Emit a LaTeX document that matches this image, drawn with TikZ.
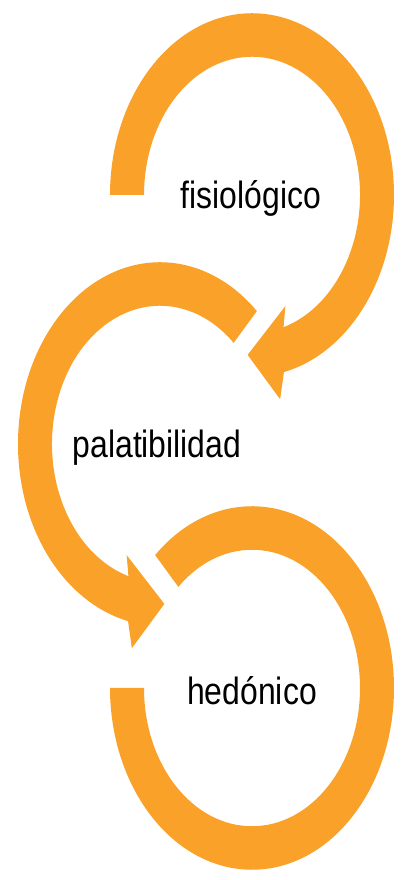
\documentclass[tikz,border=0pt]{standalone}
\usepackage{fontspec}
\setmainfont[FakeStretch=0.84]{Liberation Sans}
\usepackage{tikz}
\definecolor{ringorange}{RGB}{250,161,41}

\begin{document}
\begin{tikzpicture}[x=0.5pt, y=0.5pt]
        \tikzstyle{ring} = [fill=ringorange, draw=none, yscale=1.28]
        \tikzstyle{label} = [anchor=base, font=\fontsize{19}{22}\selectfont, text=black]

        \useasboundingbox (0,0) rectangle (411,880);

        % top ring, clockwise with arrow head
        \begin{scope}[shift={(252,685)}, ring]
            \fill (180:142) arc [start angle=180, end angle=-77, radius=142]
                -- (-80:162) -- (-92:125) -- (-69:93) -- (-73:108)
                arc [start angle=-73, end angle=180, radius=108] -- cycle;
        \end{scope}

        % middle ring, counter clockwise with arrow head
        \begin{scope}[shift={(160,436)}, ring]
            \fill (47:142) arc [start angle=47, end angle=257, radius=142]
                -- (260:162) -- (272:125) -- (249:93) -- (253:108)
                arc [start angle=253, end angle=47, radius=108] -- cycle;
        \end{scope}

        % bottom ring, no head
        \begin{scope}[shift={(252,192)}, ring]
            \fill (133:142) arc [start angle=133, end angle=-180, radius=142]
                -- (180:108) arc [start angle=-180, end angle=133, radius=108] -- cycle;
        \end{scope}

        \node [label] (fisio) at (251,671) {fisiológico};
        \node [label] (palat) at (157,422) {palatibilidad};
        \node [label] (hedon) at (252,175) {hedónico};
    \end{tikzpicture}
\end{document}
